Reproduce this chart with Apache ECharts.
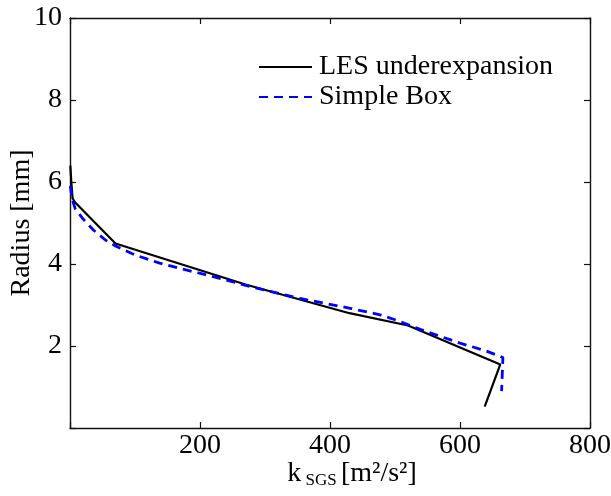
<!DOCTYPE html>
<html>
<head>
<meta charset="utf-8">
<script src="https://cdn.jsdelivr.net/npm/echarts@6/dist/echarts.min.js"></script>
<style>html,body{margin:0;padding:0;background:#fff}#c{width:611px;height:496px}</style>
</head>
<body>
<div id="c"></div>
<script>
// LES underexpansion (k_SGS, radius)
const lesK = [0.5, 2, 4, 8, 70, 270, 430, 520, 662, 638];
const lesR = [6.4, 6.0, 5.6, 5.5, 4.5, 3.5, 2.8, 2.5, 1.55, 0.52];
// Simple Box
const boxK = [0.5, 3, 8, 20, 36, 55, 70, 100, 138, 180, 226, 277, 354, 431, 477, 500, 540, 600, 640, 666, 665, 664];
const boxR = [5.9, 5.6, 5.35, 5.1, 4.83, 4.58, 4.44, 4.22, 4.02, 3.85, 3.67, 3.45, 3.16, 2.92, 2.76, 2.64, 2.40, 2.07, 1.88, 1.72, 1.3, 0.9];
const xTicks = [0, 200, 400, 600, 800];
const yTicks = [0, 2, 4, 6, 8, 10];

const FONT = 'Liberation Serif';
const zip = (a, b) => a.map((v, i) => [v, b[i]]);
const axisLine = {show: true, onZero: false, lineStyle: {color: '#111', width: 1.4}};
const axisTick = {show: true, inside: true, length: 6, lineStyle: {color: '#111', width: 1.2}};

const chart = echarts.init(document.getElementById('c'));
chart.setOption({
  animation: false,
  backgroundColor: '#fff',
  grid: {left: 70, right: 21, top: 18, bottom: 68, containLabel: false, outerBoundsMode: 'none'},
  legend: {
    orient: 'vertical', left: 253, top: 48, itemWidth: 53, itemHeight: 14, itemGap: 2,
    itemStyle: {opacity: 0},
    textStyle: {fontFamily: FONT, fontSize: 28, color: '#000', padding: [0, 0, 0, 2], lineHeight: 28},
    data: ['LES underexpansion', 'Simple Box']
  },
  xAxis: [{
    type: 'value', min: xTicks[0], max: xTicks[xTicks.length - 1], interval: 200,
    axisLine, axisTick, splitLine: {show: false},
    axisLabel: {fontFamily: FONT, fontSize: 28, color: '#000', margin: 4,
      formatter: v => v === 0 ? '' : String(v)},
    name: '{k|k}{sub| SGS }{n|[m²/s²]}', nameLocation: 'middle', nameGap: 30, nameMoveOverlap: false,
    nameTextStyle: {padding: [0, 0, 0, 44], rich: {
      k: {fontFamily: FONT, fontSize: 28, color: '#000'},
      sub: {fontFamily: FONT, fontSize: 17, color: '#000', padding: [14, 0, 0, 0]},
      n: {fontFamily: FONT, fontSize: 28, color: '#000'}
    }}
  }, {
    type: 'value', position: 'top', min: 0, max: 800, interval: 200,
    axisLine, axisTick, axisLabel: {show: false}, splitLine: {show: false}
  }],
  yAxis: [{
    type: 'value', min: yTicks[0], max: yTicks[yTicks.length - 1], interval: 2,
    axisLine, axisTick, splitLine: {show: false},
    axisLabel: {fontFamily: FONT, fontSize: 28, color: '#000', margin: 8,
      formatter: v => v === 0 ? '' : String(v)},
    name: 'Radius [mm]', nameLocation: 'middle', nameGap: 34, nameMoveOverlap: false,
    nameTextStyle: {fontFamily: FONT, fontSize: 28, color: '#000'}
  }, {
    type: 'value', position: 'right', min: 0, max: 10, interval: 2,
    axisLine, axisTick, axisLabel: {show: false}, splitLine: {show: false}
  }],
  series: [{
    name: 'LES underexpansion', type: 'line', symbol: 'none',
    data: zip(lesK, lesR),
    lineStyle: {color: '#000', width: 2.2}, itemStyle: {color: '#000'}
  }, {
    name: 'Simple Box', type: 'line', symbol: 'none',
    data: zip(boxK, boxR),
    lineStyle: {color: '#0000ff', width: 2.8, type: [9, 6]}, itemStyle: {color: '#0000ff'}
  }]
});
</script>
</body>
</html>
